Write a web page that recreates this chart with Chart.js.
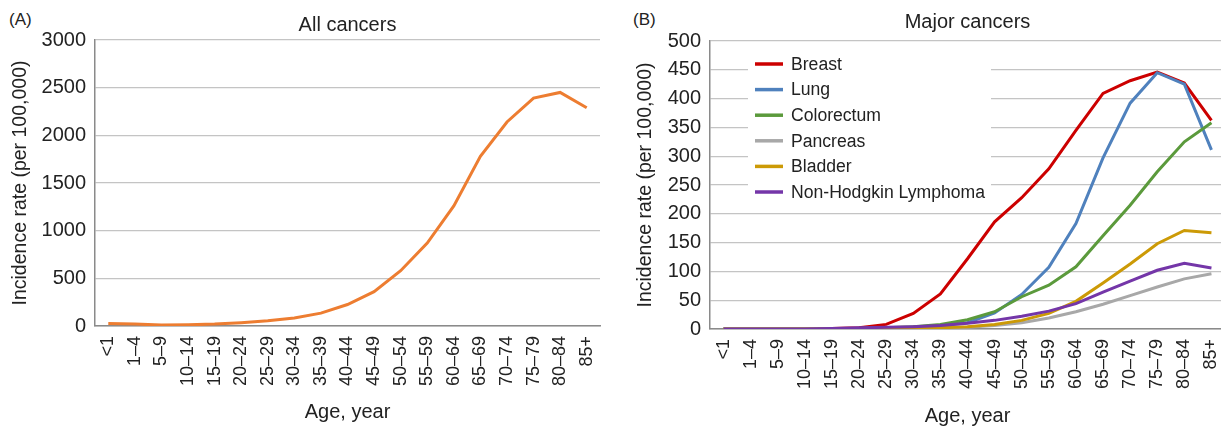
<!DOCTYPE html>
<html>
<head>
<meta charset="utf-8">
<script src="https://cdn.jsdelivr.net/npm/chart.js@4.4.1/dist/chart.umd.min.js"></script>
<style>
  html, body { margin: 0; padding: 0; background: #fff; }
  body { width: 1221px; height: 428px; position: relative; overflow: hidden; font-family: "Liberation Sans", Arial, sans-serif; }
  .panel { position: absolute; top: 0; }
  .tag { position: absolute; top: 10px; font-size: 17px; color: #222; }
</style>
</head>
<body>
<div class="tag" style="left:9px">(A)</div>
<div class="tag" style="left:633px">(B)</div>
<div class="panel" style="left:0"><canvas id="allChart" width="610" height="428"></canvas></div>
<div class="panel" style="left:610px"><canvas id="majorChart" width="620" height="428"></canvas></div>
<script>
// age groups and incidence rates (per 100,000)
const ageGroups = ['<1', '1–4', '5–9', '10–14', '15–19', '20–24', '25–29', '30–34', '35–39', '40–44',
  '45–49', '50–54', '55–59', '60–64', '65–69', '70–74', '75–79', '80–84', '85+'];

const allCancers = [25, 20, 10, 12, 20, 35, 55, 85, 135, 225, 360, 580, 870, 1260, 1780, 2140, 2390, 2450, 2290];

const breast     = [0, 0, 0, 0, 1, 2, 8, 27, 61, 122, 186, 228, 278, 345, 409, 431, 446, 427, 362];
const lung       = [0, 0, 0, 0, 0, 1, 1, 3, 6, 11, 28, 60, 107, 183, 297, 392, 445, 425, 311];
const colorectum = [0, 0, 0, 0, 0, 1, 2, 4, 8, 16, 30, 56, 76, 108, 162, 215, 273, 325, 358];
const pancreas   = [0, 0, 0, 0, 0, 0, 0, 1, 2, 3, 6, 11, 19, 30, 43, 58, 73, 87, 96];
const bladder    = [0, 0, 0, 0, 0, 0, 1, 1, 2, 4, 8, 15, 27, 48, 80, 113, 148, 171, 167];
const nhl        = [0, 0, 0, 0, 1, 2, 3, 4, 6, 10, 15, 22, 31, 44, 64, 83, 102, 114, 106];

const FONT = '"Liberation Sans", Arial, sans-serif';
const TEXT = '#222';

// title centred over the plot area rather than the canvas
const areaTitle = {
  id: 'areaTitle',
  afterDraw(chart, args, opts) {
    const { ctx, chartArea } = chart;
    ctx.save();
    ctx.font = '20px ' + FONT;
    ctx.fillStyle = TEXT;
    ctx.textAlign = 'center';
    ctx.textBaseline = 'middle';
    ctx.fillText(opts.text, (chartArea.left + chartArea.right) / 2, opts.y);
    ctx.restore();
  }
};

// legend inside the plot, white box over the gridlines
const innerLegend = {
  id: 'innerLegend',
  beforeDatasetsDraw(chart, args, opts) {
    if (!opts.display) return;
    const ctx = chart.ctx;
    ctx.save();
    ctx.fillStyle = '#fff';
    ctx.fillRect(opts.x, opts.y, opts.w, opts.h);
    ctx.font = '17.6px ' + FONT;
    ctx.textBaseline = 'middle';
    chart.data.datasets.forEach((ds, i) => {
      const yy = opts.firstRow + i * opts.rowGap;
      ctx.strokeStyle = ds.borderColor;
      ctx.lineWidth = 3.5;
      ctx.beginPath();
      ctx.moveTo(opts.x + 7, yy);
      ctx.lineTo(opts.x + 35, yy);
      ctx.stroke();
      ctx.fillStyle = TEXT;
      ctx.fillText(ds.label, opts.x + 43, yy + 1);
    });
    ctx.restore();
  }
};

function lineSet(label, data, color, order) {
  return { label, data, borderColor: color, backgroundColor: color, borderWidth: 3,
    pointRadius: 0, tension: 0, order: order };
}

function makeOptions(cfg) {
  return {
    responsive: false,
    animation: false,
    layout: { padding: { left: 0, right: cfg.padRight, top: cfg.top, bottom: 0 } },
    plugins: {
      legend: { display: false },
      tooltip: { enabled: false },
      areaTitle: { text: cfg.title, y: cfg.titleY },
      innerLegend: cfg.legend || { display: false }
    },
    scales: {
      x: {
        offset: true,
        grid: { display: false, drawTicks: false },
        border: { display: true, color: '#8a8a8a', width: 1.5 },
        ticks: { color: TEXT, font: { family: FONT, size: 18 }, maxRotation: 90, minRotation: 90, padding: 10, autoSkip: false },
        title: { display: true, text: 'Age, year', color: TEXT, font: { family: FONT, size: 20 }, padding: { top: 0, bottom: cfg.xTitlePad } },
        // rotated labels fit inside the half-category offset, no extra side room
        afterFit: s => { s.height = cfg.xHeight; s.paddingLeft = 0; s.paddingRight = 0; }
      },
      y: {
        min: 0, max: cfg.yMax,
        grid: { color: '#c4c4c4', lineWidth: 1.3, drawTicks: false },
        border: { display: true, color: '#8a8a8a', width: 1.5 },
        ticks: { stepSize: cfg.step, color: TEXT, font: { family: FONT, size: 20 }, padding: 9,
          callback: v => String(v) },
        title: { display: true, text: 'Incidence rate (per 100,000)', color: TEXT, font: { family: FONT, size: 19.5 }, padding: { top: cfg.yTitlePad, bottom: 0 } },
        afterFit: s => { s.width = cfg.yWidth; }
      }
    }
  };
}

new Chart(document.getElementById('allChart'), {
  type: 'line',
  data: { labels: ageGroups, datasets: [lineSet('All cancers', allCancers, '#ed7d31', 0)] },
  options: makeOptions({ title: 'All cancers', titleY: 25, top: 40, padRight: 10, yMax: 3000, step: 500,
    xHeight: 102, xTitlePad: 4, yWidth: 95, yTitlePad: 9 }),
  plugins: [areaTitle]
});

new Chart(document.getElementById('majorChart'), {
  type: 'line',
  data: {
    labels: ageGroups,
    datasets: [
      lineSet('Breast', breast, '#cc0000', 5),
      lineSet('Lung', lung, '#4f81bd', 4),
      lineSet('Colorectum', colorectum, '#5b9a3c', 3),
      lineSet('Pancreas', pancreas, '#a8a8a8', 2),
      lineSet('Bladder', bladder, '#cc9a06', 1),
      lineSet('Non-Hodgkin Lymphoma', nhl, '#7436a8', 0)
    ]
  },
  options: makeOptions({ title: 'Major cancers', titleY: 22, top: 41, padRight: 5, yMax: 500, step: 50,
    xHeight: 99, xTitlePad: 0, yWidth: 100, yTitlePad: 24,
    legend: { display: true, x: 138, y: 49, w: 243, h: 156, firstRow: 64, rowGap: 25.6 } }),
  plugins: [areaTitle, innerLegend]
});
</script>
</body>
</html>
